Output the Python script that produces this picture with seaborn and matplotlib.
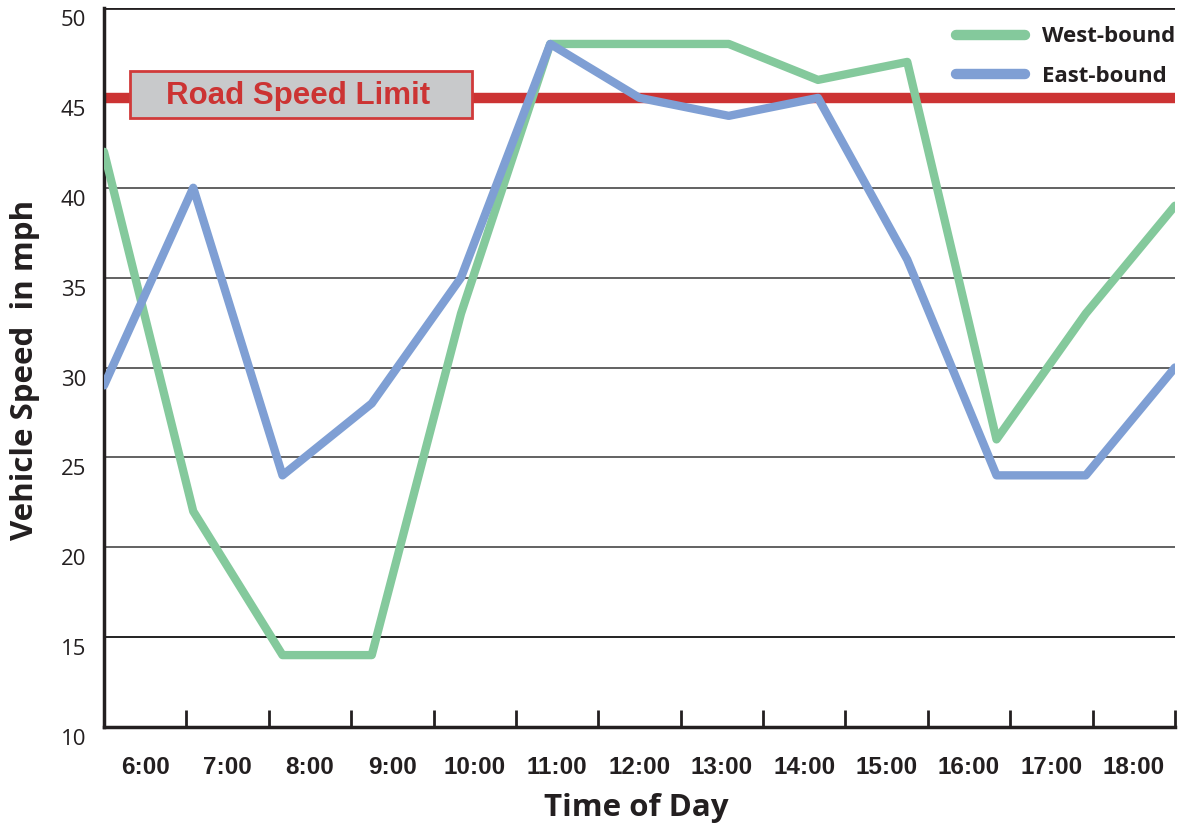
import numpy as np
import pandas as pd
import matplotlib
matplotlib.use('Agg')
import matplotlib.pyplot as plt
import matplotlib.transforms as mtransforms
from matplotlib.patches import Rectangle
from matplotlib.lines import Line2D
import seaborn as sns

# data
hours = ['6:00', '7:00', '8:00', '9:00', '10:00', '11:00', '12:00',
         '13:00', '14:00', '15:00', '16:00', '17:00', '18:00']
west_bound = [42, 22, 14, 14, 33, 48, 48, 48, 46, 47, 26, 33, 39]
east_bound = [29, 40, 24, 28, 35, 48, 45, 44, 45, 36, 24, 24, 30]
speed_limit = 45
y_ticks = [10, 15, 20, 25, 30, 35, 40, 45, 50]

n = len(hours)
df = pd.DataFrame({
    'pos': list(range(n)) * 2,
    'speed': west_bound + east_bound,
    'dir': ['West-bound'] * n + ['East-bound'] * n,
})

sns.set_style('white')
plt.rcParams['font.family'] = ['Open Sans', 'DejaVu Sans']

fig = plt.figure(figsize=(11.78, 8.26), dpi=100)
ax = fig.add_axes([104 / 1178, 1 - 727 / 826, (1175 - 104) / 1178, (727 - 8) / 826])

green = '#84c99c'
blue = '#7f9fd4'
red = '#cc3333'
dark = '#231f20'

# gridlines
for y in y_ticks[1:-1]:
    if y == speed_limit:
        continue
    ax.axhline(y, color='#111111' if y == 15 else '#555555', lw=1.3, zorder=1)
ax.axhline(50, color=dark, lw=2, zorder=1)

# speed limit
ax.axhline(speed_limit, color=red, lw=7.5, zorder=2)

sns.lineplot(data=df, x='pos', y='speed', hue='dir',
             palette={'West-bound': green, 'East-bound': blue},
             linewidth=6, ax=ax, legend=False, zorder=3)

# label box on the limit line
ax.add_patch(Rectangle((0.29, 43.9), 3.83, 2.6, facecolor='#c8c9cb',
                       edgecolor='#d03a3a', lw=2, zorder=4))
ax.text(2.17, 45.1, 'Road Speed Limit', color=red, fontsize=22.5,
        fontweight='bold', family='Liberation Sans', va='center', ha='center',
        zorder=5)

ax.set_xlim(0, n - 1)
ax.set_ylim(10, 50)

# x: tick marks at bin edges, labels in bin centers
step = (n - 1) / n
ax.set_xticks([k * step for k in range(n + 1)])
ax.set_xticklabels([])
ax.set_xticks([(k + 0.5) * step for k in range(n)], minor=True)
ax.set_xticklabels(hours, minor=True, fontsize=17.5, fontweight='bold',
                   family='Liberation Sans', color=dark)
ax.tick_params(axis='x', which='major', direction='in', length=12, width=2,
               color=dark, bottom=True)
ax.tick_params(axis='x', which='minor', length=0, pad=21)

ax.set_yticks(y_ticks)
ax.set_yticklabels([str(v) for v in y_ticks], fontsize=16, color=dark)
ax.tick_params(axis='y', length=0, pad=13)
off = mtransforms.ScaledTranslation(0, -0.1, fig.dpi_scale_trans)
for lab in ax.get_yticklabels():
    lab.set_transform(lab.get_transform() + off)

for s in ['top', 'right']:
    ax.spines[s].set_visible(False)
for s in ['left', 'bottom']:
    ax.spines[s].set_color(dark)
    ax.spines[s].set_linewidth(2.5)

ax.set_xlabel('')
ax.set_ylabel('')
fig.text(25 / 1178, 1 - 370 / 826, 'Vehicle Speed  in mph', rotation=90,
         fontsize=22.5, fontweight='bold', color=dark, ha='center', va='center')
fig.text(636 / 1178, 1 - 808 / 826, 'Time of Day', fontsize=22.5,
         fontweight='bold', color=dark, ha='center', va='center')

# legend
handles = [Line2D([], [], color=green, lw=7.5), Line2D([], [], color=blue, lw=7.5)]
leg = ax.legend(handles, ['West-bound', 'East-bound'], loc='upper right',
                bbox_to_anchor=(1.013, 0.993), frameon=False, handlelength=3.1,
                handletextpad=0.8, labelspacing=0.85, borderaxespad=0.3,
                borderpad=0.3, prop=dict(size=16, weight='bold'))
for t in leg.get_texts():
    t.set_color(dark)

fig.savefig('out.png', dpi=100)
